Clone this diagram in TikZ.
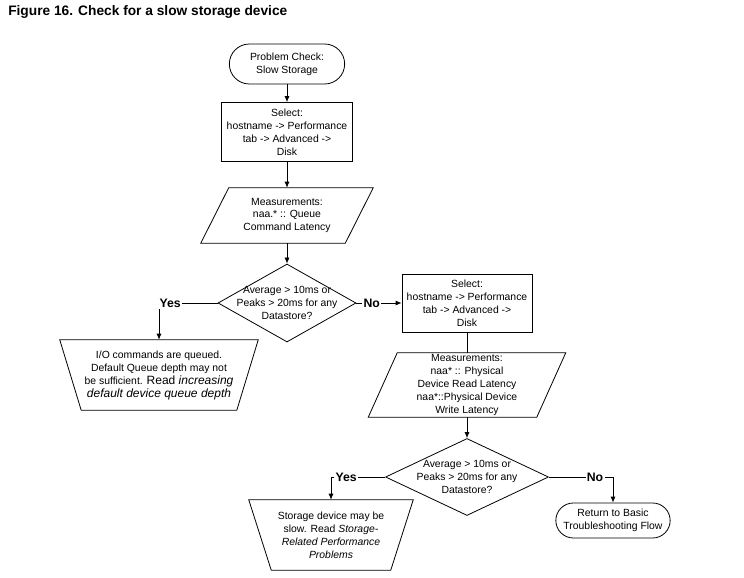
\documentclass[tikz,border=0pt]{standalone}
\usepackage{fontspec}
\setmainfont{Liberation Sans}
\usetikzlibrary{shapes.geometric,shapes.misc,arrows.meta}
\begin{document}
\begin{tikzpicture}[x=0.75pt,y=-0.75pt,
  every node/.style={inner sep=0pt},
  outline/.style={draw, line width=0.6pt},
  base/.style={outline, inner sep=1pt},
  txt/.style={font=\fontsize{7.8}{9.75}\selectfont, align=center, inner sep=0pt},
  term/.style={base, rounded rectangle},
  box/.style={base, rectangle, txt},
  frame/.style={rectangle, txt},
  dec/.style={base, diamond},
  arr/.style={line width=0.6pt, -{Latex[length=4.5pt,width=3.8pt]}},
  conn/.style={line width=0.6pt},
  yn/.style={font=\fontsize{9.2}{10}\selectfont\bfseries, fill=white, inner xsep=1pt, inner ysep=1pt}
]
\useasboundingbox (0,0) rectangle (744,578);

\node[anchor=west, font=\fontsize{10.3}{12}\selectfont\bfseries] (title) at (8,12) {Figure 16. Check for a slow storage device};

% left column
\node[term, minimum width=88.5pt, minimum height=30pt,
  label={[txt]center:{Problem Check:\\Slow Storage}}] (t1) at (287,64) {};
\node[box, minimum width=98.25pt, minimum height=44.25pt] (s1) at (287,132)
  {Select:\\hostname -> Performance\\tab -> Advanced ->\\Disk};
\node[frame, minimum width=129pt, minimum height=41.25pt] (m1) at (287,215.5)
  {Measurements:\\naa.* :: Queue\\Command Latency};
\draw[outline] ([xshift=21pt]m1.north west) -- (m1.north east) -- ([xshift=-21pt]m1.south east) -- (m1.south west) -- cycle;
\node[dec, minimum width=103.5pt, minimum height=58.5pt,
  label={[txt]center:{Average > 10ms or\\Peaks > 20ms for any\\Datastore?}}] (d1) at (287,303) {};
\node[frame, minimum width=148.5pt, minimum height=52.5pt] (q1) at (159,375)
  {I/O commands are queued.\\Default Queue depth may not\\be sufficient. {\fontsize{9}{11}\selectfont Read \textit{increasing}}\\{\fontsize{9}{11}\selectfont\itshape default device queue depth}};
\draw[outline] (q1.north west) -- (q1.north east) -- ([xshift=-16.1pt]q1.south east) -- ([xshift=16.1pt]q1.south west) -- cycle;

% right column
\node[box, minimum width=97.5pt, minimum height=43.5pt] (s2) at (467,303)
  {Select:\\hostname -> Performance\\tab -> Advanced ->\\Disk};
\node[frame, minimum width=147.75pt, minimum height=48pt] (m2) at (467,385)
  {Measurements:\\naa* :: Physical\\Device Read Latency\\naa*::Physical Device\\Write Latency};
\draw[outline] ([xshift=21.75pt]m2.north west) -- (m2.north east) -- ([xshift=-21.75pt]m2.south east) -- (m2.south west) -- cycle;
\node[dec, minimum width=122.25pt, minimum height=57.75pt,
  label={[txt]center:{Average > 10ms or\\Peaks > 20ms for any\\Datastore?}}] (d2) at (467,477) {};
\node[frame, minimum width=123pt, minimum height=52.5pt] (q2) at (331,535)
  {Storage device may be\\slow. Read \textit{Storage-}\\\textit{Related Performance}\\\textit{Problems}};
\draw[outline] (q2.north west) -- (q2.north east) -- ([xshift=-16.9pt]q2.south east) -- ([xshift=16.9pt]q2.south west) -- cycle;
\node[term, minimum width=87.75pt, minimum height=26.25pt,
  label={[txt]center:{Return to Basic\\Troubleshooting Flow}}] (t2) at (613,520.5) {};

\coordinate (c1) at (159,303);
\coordinate (c2) at (331,477);
\coordinate (c3) at (613,477);

\draw[arr] (t1) -- (s1);
\draw[arr] (s1) -- (m1);
\draw[arr] (m1) -- (d1);
\draw[arr] (d1.west) -- node[yn, pos=0.81] (yes1) {Yes} (c1) -- (q1.north);
\draw[arr] (d1.east) -- node[yn, pos=0.34] (no1) {No} (s2.west);
\draw[conn] (s2) -- (m2);
\draw[arr] (m2) -- (d2);
\draw[arr] (d2.west) -- node[yn, pos=0.72] (yes2) {Yes} (c2) -- (q2.north);
\draw[arr] (d2.east) -- node[yn, pos=0.72] (no2) {No} (c3) -- (t2.north);
\end{tikzpicture}
\end{document}
